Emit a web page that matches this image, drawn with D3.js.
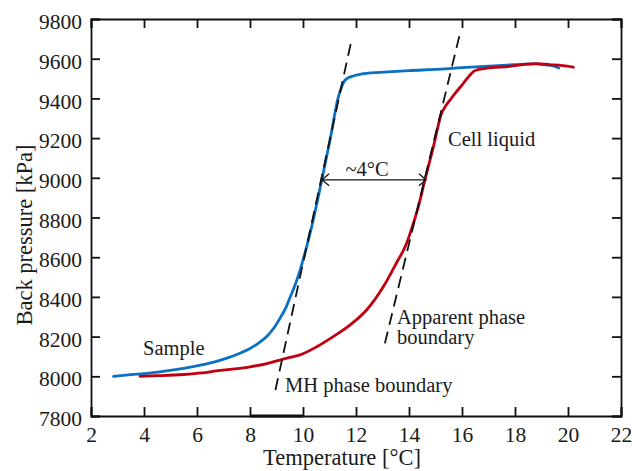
<!DOCTYPE html>
<html>
<head>
<meta charset="utf-8">
<script src="https://cdn.jsdelivr.net/npm/d3@7"></script>
<style>
  html, body { margin: 0; padding: 0; background: #fff; }
  svg { display: block; }
  text { font-family: "Liberation Serif", "Times New Roman", serif; fill: #1a1a1a; }
</style>
</head>
<body>
<div id="chart"></div>
<script>
// ---- data (Temperature °C, Back pressure kPa) ----
const sampleCurve = [
  [2.85,8000],[3.5,8008],[4.2,8016],[5.0,8030],[5.5,8040],[6.1,8055],[6.6,8070],
  [7.1,8090],[7.6,8115],[8.0,8140],[8.3,8165],[8.63,8200],[8.9,8243],[9.13,8292],
  [9.35,8345],[9.51,8397],[9.7,8460],[9.89,8535],[10.01,8590],[10.33,8755],
  [10.71,8990],[11.02,9190],[11.33,9405],[11.45,9455],[11.55,9485],[11.7,9503],
  [11.9,9513],[12.4,9526],[12.9,9531],[14.0,9540],[15.17,9547],[16.0,9555],
  [17.0,9563],[17.7,9568],[18.4,9573],[18.8,9574],[19.2,9568],[19.4,9565],[19.65,9553]
];
const cellLiquidCurve = [
  [3.85,8000],[4.5,8003],[5.48,8009],[6.2,8017],[6.74,8027],[7.4,8037],[8.0,8048],
  [8.6,8063],[9.13,8082],[9.5,8095],[9.89,8108],[10.52,8149],[11.14,8200],[11.77,8258],
  [12.4,8334],[13.03,8451],[13.53,8572],[13.91,8670],[14.04,8720],[14.35,8854],
  [14.6,8989],[14.92,9156],[15.23,9325],[15.4,9365],[15.55,9392],[15.8,9435],
  [16.05,9476],[16.25,9510],[16.43,9535],[16.6,9545],[16.93,9552],[17.81,9562],
  [18.44,9573],[18.8,9575],[19.3,9570],[19.8,9565],[20.2,9557]
];
const mhBoundary = [[8.96,7931],[11.85,9706]];
const apparentBoundary = [[13.09,8166],[15.9,9714]];
const shiftArrow = [[10.72,8990],[14.64,8990]];
const xTicks = [2,4,6,8,10,12,14,16,18,20,22];
const yTicks = [7800,8000,8200,8400,8600,8800,9000,9200,9400,9600,9800];

// ---- layout ----
const W = 632, H = 471;
const L = 91, R = 621, T = 19, B = 416;
const x = d3.scaleLinear().domain([2,22]).range([L,R]);
const y = d3.scaleLinear().domain([7800,9800]).range([B,T]);

const svg = d3.select("#chart").append("svg").attr("width",W).attr("height",H);

const tickLen = 9;
const fsTick = 21.5, fsTitle = 22.5, fsAnn = 20.5;

// axes (inward ticks) on all four sides
const axBottom = svg.append("g").attr("transform",`translate(0,${B})`)
  .call(d3.axisBottom(x).tickValues(xTicks).tickSize(-tickLen).tickPadding(14).tickFormat(d3.format("d")));
const axTop = svg.append("g").attr("transform",`translate(0,${T})`)
  .call(d3.axisTop(x).tickValues(xTicks).tickSize(-tickLen).tickFormat(""));
const axLeft = svg.append("g").attr("transform",`translate(${L},0)`)
  .call(d3.axisLeft(y).tickValues(yTicks).tickSize(-tickLen).tickPadding(9).tickFormat(d3.format("d")));
const axRight = svg.append("g").attr("transform",`translate(${R},0)`)
  .call(d3.axisRight(y).tickValues(yTicks).tickSize(-tickLen).tickFormat(""));

[axBottom, axTop, axLeft, axRight].forEach(g => {
  g.select(".domain").attr("stroke","#111").attr("stroke-width",1.8);
  g.selectAll(".tick line").attr("stroke","#111").attr("stroke-width",1.8);
  g.selectAll(".tick text").attr("font-size",fsTick).attr("fill","#111")
    .style("font-family",'"Liberation Serif","Times New Roman",serif');
});
axLeft.selectAll(".tick text").attr("dy","0.45em");
axBottom.selectAll(".tick text").attr("dy","0.55em");

// thicker stretch on bottom axis (as in the reference)
svg.append("line").attr("x1",x(8)).attr("x2",x(10)).attr("y1",B).attr("y2",B)
  .attr("stroke","#111").attr("stroke-width",3);

// axis titles
svg.append("text").attr("x",342).attr("y",465).attr("text-anchor","middle")
  .attr("font-size",fsTitle).text("Temperature [°C]");
svg.append("text").attr("transform",`translate(31.5,235) rotate(-90)`).attr("text-anchor","middle")
  .attr("font-size",fsTitle).text("Back pressure [kPa]");

// curves
const line = d3.line().x(d=>x(d[0])).y(d=>y(d[1])).curve(d3.curveMonotoneX);
svg.append("path").datum(sampleCurve).attr("d",line).attr("fill","none")
  .attr("stroke","#0a70c2").attr("stroke-width",2.8).attr("stroke-linejoin","round").attr("stroke-linecap","round");
svg.append("path").datum(cellLiquidCurve).attr("d",line).attr("fill","none")
  .attr("stroke","#c00010").attr("stroke-width",2.8).attr("stroke-linejoin","round").attr("stroke-linecap","round");

// dashed boundary lines
const straight = d3.line().x(d=>x(d[0])).y(d=>y(d[1]));
[mhBoundary, apparentBoundary].forEach(seg => {
  svg.append("path").datum(seg).attr("d",straight).attr("fill","none")
    .attr("stroke","#111").attr("stroke-width",1.8).attr("stroke-dasharray","12,7");
});

// double-headed arrow
const ax1 = x(shiftArrow[0][0]), ax2 = x(shiftArrow[1][0]), ay = y(shiftArrow[0][1]);
svg.append("line").attr("x1",ax1).attr("x2",ax2).attr("y1",ay).attr("y2",ay)
  .attr("stroke","#111").attr("stroke-width",1.3);
svg.append("path").attr("d",`M${ax1+7},${ay-6}L${ax1},${ay}L${ax1+7},${ay+6}`)
  .attr("fill","none").attr("stroke","#111").attr("stroke-width",1.3);
svg.append("path").attr("d",`M${ax2-7},${ay-6}L${ax2},${ay}L${ax2-7},${ay+6}`)
  .attr("fill","none").attr("stroke","#111").attr("stroke-width",1.3);

// annotations
const ann = svg.append("g").attr("font-size",fsAnn);
ann.append("text").attr("x",(ax1+ax2)/2-7).attr("y",ay-4).attr("text-anchor","middle").text("~4°C");
ann.append("text").attr("x",448).attr("y",146).text("Cell liquid");
ann.append("text").attr("x",143).attr("y",355).text("Sample");
ann.append("text").attr("x",285).attr("y",392).text("MH phase boundary");
ann.append("text").attr("x",397).attr("y",324).text("Apparent phase");
ann.append("text").attr("x",397).attr("y",344).text("boundary");
</script>
</body>
</html>
